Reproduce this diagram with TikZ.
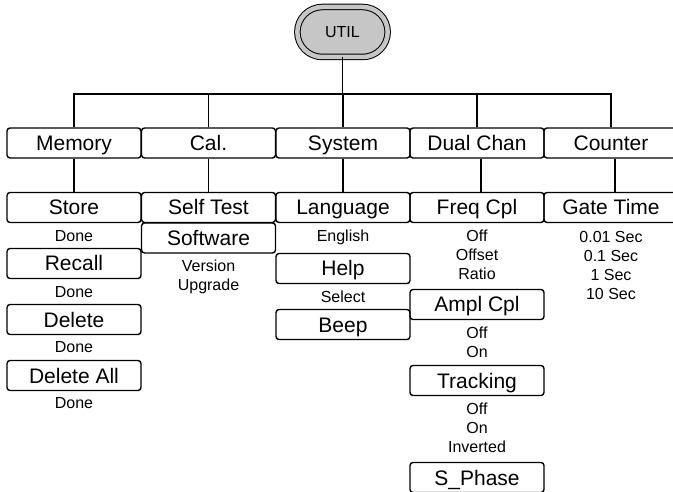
\documentclass[tikz,border=0pt]{standalone}
\usepackage{fontspec}
\setmainfont{Liberation Sans}
\usetikzlibrary{positioning,shapes.misc}

\begin{document}
\begin{tikzpicture}[x=1pt,y=-1pt,line width=1.4pt,
  menukey/.style={draw,rounded corners=3pt,minimum width=134pt,minimum height=30pt,inner sep=0pt,text height=15pt,text depth=0pt,font=\fontsize{21}{25}\selectfont},
  optlist/.style={align=center,inner sep=0pt,font=\fontsize{16}{19}\selectfont},
  optword/.style={optlist,text height=11.5pt,text depth=0pt}]
\clip (0,0) rectangle (673,492);
\node[rounded rectangle,draw,line width=1pt,double=gray!45,double distance=4.5pt,fill=gray!45,minimum width=97pt,minimum height=50pt,text height=11.5pt,text depth=0pt,font=\fontsize{16}{19}\selectfont] (util) at (342.5,32) {UTIL};
\coordinate (bus) at (342.5,94);
\node[menukey] (mem) at (74,143) {Memory};
\node[menukey] (cal) at (208.5,143) {Cal.};
\node[menukey] (sys) at (343,143) {System};
\node[menukey] (dual) at (477,143) {Dual Chan};
\node[menukey] (cnt) at (611,143) {Counter};
\draw (util.south) -- (bus);
\draw (mem.north) |- (bus) -| (cnt.north);
\foreach \k in {cal,sys,dual} \draw (\k.north) -- (\k.north |- bus);
\node[menukey] (store) at (74,207.5) {Store};
\node[menukey] (selft) at (208.5,207.5) {Self Test};
\node[menukey] (lang) at (343,207.5) {Language};
\node[menukey] (freq) at (477,207.5) {Freq Cpl};
\node[menukey] (gate) at (611,207.5) {Gate Time};
\draw (mem) -- (store);
\draw (cal) -- (selft);
\draw (sys) -- (lang);
\draw ([xshift=4pt]dual.south) -- ([xshift=4pt]freq.north);
\draw ([xshift=4pt]cnt.south) -- ([xshift=4pt]gate.north);
\node[optword] (done1) at (74,236) {Done};
\node[menukey] (recall) at (74,263.5) {Recall};
\node[optword] (done2) at (74,292) {Done};
\node[menukey] (delete) at (74,319.5) {Delete};
\node[optword] (done3) at (74,347) {Done};
\node[menukey] (delall) at (74,375.5) {Delete All};
\node[optword] (done4) at (74,403) {Done};
\node[menukey] (soft) at (208.5,238) {Software};
\node[optlist] (softopt) at (208.5,276.5) {Version\\Upgrade};
\node[optword] (english) at (343,236) {English};
\node[menukey] (help) at (343,268.5) {Help};
\node[optword] (select) at (343,297) {Select};
\node[menukey] (beep) at (343,324.5) {Beep};
\node[optlist] (freqopt) at (477,255) {Off\\Offset\\Ratio};
\node[menukey] (ampl) at (477,304.5) {Ampl Cpl};
\node[optlist] (amplopt) at (477,342.5) {Off\\On};
\node[menukey] (track) at (477,380.5) {Tracking};
\node[optlist] (trackopt) at (477,428) {Off\\On\\Inverted};
\node[menukey] (sphase) at (477,477.5) {S\_Phase};
\node[optlist] (gateopt) at (611,265) {0.01 Sec\\0.1 Sec\\1 Sec\\10 Sec};
\end{tikzpicture}
\end{document}
